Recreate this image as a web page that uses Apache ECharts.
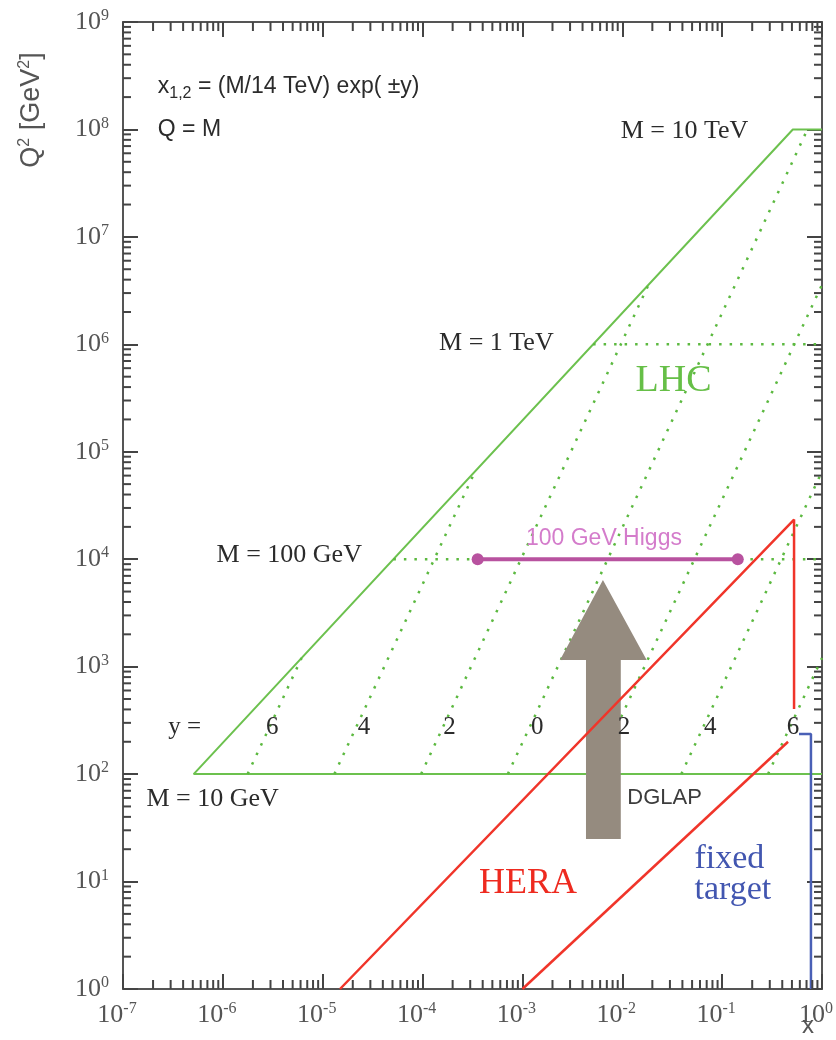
<!DOCTYPE html>
<html>
<head>
<meta charset="utf-8">
<script src="https://cdn.jsdelivr.net/npm/echarts@6/dist/echarts.min.js"></script>
<style>
  html, body { margin: 0; padding: 0; background: #ffffff; }
  #chart { width: 836px; height: 1040px; }
</style>
</head>
<body>
<div id="chart"></div>
<script>
// Kinematic plane of parton momentum fraction x against Q^2 [GeV^2]

// Axis ranges and decade exponents used for the tick labels
const xRange = [1e-7, 1];
const q2Range = [1, 1e9];
const xExponents = [-7, -6, -5, -4, -3, -2, -1, 0];
const q2Exponents = [0, 1, 2, 3, 4, 5, 6, 7, 8, 9];
const minorSteps = [2, 3, 4, 5, 6, 7, 8, 9];

// LHC reach (sqrt(s) = 14 TeV, Q = M): M = 10 TeV cap, x_min edge, M = 10 GeV floor
const lhcEdge = [[1, 1e8], [0.5102, 1e8], [5.102e-7, 100], [1, 100]];

// Lines of fixed rapidity y = -6, -4, -2, 0, 2, 4, 6
const rapidityLines = [
  [[1.770e-6, 100], [6.144e-6, 1204]],
  [[1.308e-5, 100], [3.355e-4, 6.575e4]],
  [[9.667e-5, 100], [1.832e-2, 3.590e6]],
  [[7.143e-4, 100], [0.7143, 1e8]],
  [[5.278e-3, 100], [1, 3.590e6]],
  [[3.900e-2, 100], [1, 6.575e4]],
  [[0.2882, 100], [1, 1204]]
];

// Fixed-mass lines at M = 1 TeV and M = 100 GeV
const massLines = [
  [[5.102e-3, 1e6], [1, 1e6]],
  [[5.102e-5, 1e4], [1, 1e4]]
];

// HERA coverage
const heraUpper = [[1.49e-5, 1], [0.525, 2.34e4], [0.525, 404]];
const heraLower = [[1.0e-3, 1], [0.457, 200]];

// Fixed-target coverage
const fixedTarget = [[0.588, 236], [0.775, 236], [0.775, 1]];

// 100 GeV Higgs production, |y| < 3
const higgsSpan = [[3.56e-4, 1e4], [0.1434, 1e4]];

// DGLAP evolution arrow outline
const arrowOutline = [
  [4.33e-3, 24.9], [4.33e-3, 1153], [2.38e-3, 1153], [6.40e-3, 6397],
  [1.754e-2, 1153], [9.66e-3, 1153], [9.66e-3, 24.9]
];

// Text annotations
const massLabelText = ['M = 10 TeV', 'M = 1 TeV', 'M = 100 GeV', 'M = 10 GeV'];
const massLabelAt = [[0.0420, 9.66e7], [5.48e-4, 1.03e6], [4.62e-6, 1.094e4], [7.89e-7, 58.6]];
const rapidityLabelText = ['y =', '6', '4', '2', '0', '2', '4', '6'];
const rapidityLabelAt = [[4.15e-7, 274], [3.13e-6, 274], [2.59e-5, 274], [1.86e-4, 274],
                         [1.41e-3, 274], [1.04e-2, 274], [7.62e-2, 274], [0.513, 274]];

const serif = "'Liberation Serif', 'Times New Roman', serif";
const sans = "'Liberation Sans', Arial, sans-serif";

const green = '#6cc14e';
const greenDot = '#5cb940';
const red = '#f0352a';
const blue = '#4a60b6';
const higgsColor = '#b8529f';
const arrowColor = '#958b7f';
const frameColor = '#555555';
const tickColor = '#444444';

function powLabel(v) {
  const e = Math.round(Math.log10(v));
  return '{b|10}{s|' + e + '}';
}

const tickRich = {
  b: { fontFamily: serif, fontSize: 26, color: '#555', lineHeight: 28 },
  s: { fontFamily: serif, fontSize: 16, color: '#555', lineHeight: 20, verticalAlign: 'top' }
};

function logAxis(position, withLabels, isX) {
  const range = isX ? xRange : q2Range;
  return {
    type: 'log',
    logBase: 10,
    min: range[0],
    max: range[1],
    position: position,
    splitNumber: 10,
    axisLine: { show: true, onZero: false, lineStyle: { color: frameColor, width: 2 } },
    axisTick: { show: true, inside: true, length: 15, lineStyle: { color: tickColor, width: 2 } },
    minorTick: { show: false },
    splitLine: { show: false },
    axisLabel: withLabels ? {
      show: true,
      margin: isX ? 12 : 14,
      showMinLabel: true,
      showMaxLabel: true,
      formatter: powLabel,
      rich: tickRich,
      padding: isX ? [0, 12, 0, 0] : [0, 0, 0, 0]
    } : { show: false }
  };
}

// Minor tick positions at 2..9 within each decade
const xMinorTicks = [];
xExponents.slice(0, -1).forEach(e => minorSteps.forEach(k => xMinorTicks.push([k * Math.pow(10, e), q2Range[0]])));
const q2MinorTicks = [];
q2Exponents.slice(0, -1).forEach(e => minorSteps.forEach(k => q2MinorTicks.push([xRange[0], k * Math.pow(10, e)])));

function tickLine(x1, y1, x2, y2) {
  return { type: 'line', shape: { x1, y1, x2, y2 }, style: { stroke: tickColor, lineWidth: 2 } };
}

function lineSeries(name, data, style, z) {
  return {
    type: 'line', name, data, symbol: 'none', silent: true, z: z || 2,
    lineStyle: style, clip: true, animation: false
  };
}

function note(text, at, style) {
  return {
    value: at,
    label: Object.assign({ show: true, opacity: 1, position: 'inside', formatter: () => text }, style)
  };
}

const serifDark = { fontFamily: serif, fontSize: 26, color: '#2b2b2b' };

const notes = [];
massLabelText.forEach((t, i) => notes.push(note(t, massLabelAt[i], serifDark)));
rapidityLabelText.forEach((t, i) => notes.push(note(t, rapidityLabelAt[i], { fontFamily: serif, fontSize: 25, color: '#2b2b2b' })));
notes.push(note('LHC', [0.0326, 4.56e5], { fontFamily: serif, fontSize: 38, color: '#66bf47' }));
notes.push(note('HERA', [1.14e-3, 9.49], { fontFamily: serif, fontSize: 36, color: '#ee2a1f' }));
notes.push(note('fixed\ntarget', [0.0528, 11.5], { fontFamily: serif, fontSize: 34, lineHeight: 31, color: '#4256b0', align: 'left' }));
notes.push(note('DGLAP', [0.02655, 59.8], { fontFamily: sans, fontSize: 22, color: '#3c3c3c' }));
notes.push(note('100 GeV Higgs', [6.55e-3, 1.57e4], { fontFamily: sans, fontSize: 23, color: '#d47ccb' }));
notes.push(note('{t|x}{sub|1,2}{t| = (M/14 TeV) exp( ±y)}', [2.23e-7, 2.48e8], {
  align: 'left',
  rich: {
    t: { fontFamily: sans, fontSize: 23, color: '#2b2b2b', lineHeight: 30 },
    sub: { fontFamily: sans, fontSize: 16, color: '#2b2b2b', lineHeight: 14, verticalAlign: 'bottom' }
  }
}));
notes.push(note('Q = M', [2.23e-7, 9.89e7], { fontFamily: sans, fontSize: 23, color: '#2b2b2b', align: 'left' }));

const chart = echarts.init(document.getElementById('chart'), null, { renderer: 'canvas' });

const series = [];
series.push(lineSeries('LHC', lhcEdge, { color: green, width: 2 }, 2));
rapidityLines.forEach((d, i) => series.push(lineSeries('rapidity ' + i, d,
  { color: greenDot, width: 2.5, type: [2.5, 8], cap: 'butt' }, 2)));
massLines.forEach((d, i) => series.push(lineSeries('mass ' + i, d,
  { color: greenDot, width: 2.5, type: [2.5, 8], cap: 'butt' }, 2)));

series.push({
  type: 'custom', name: 'DGLAP', silent: true, z: 3, animation: false,
  data: arrowOutline,
  encode: { x: 0, y: 1 },
  renderItem: function (params, api) {
    if (params.dataIndex !== 0) return null;
    const pts = arrowOutline.map(p => api.coord(p));
    return { type: 'polygon', shape: { points: pts }, style: { fill: arrowColor } };
  }
});

series.push(lineSeries('HERA', heraUpper, { color: red, width: 2.5 }, 4));
series.push(lineSeries('HERA low', heraLower, { color: red, width: 2.5 }, 4));
series.push(lineSeries('fixed target', fixedTarget, { color: blue, width: 2.5 }, 4));

series.push({
  type: 'line', name: 'Higgs', data: higgsSpan, silent: true, z: 5, animation: false,
  symbol: 'circle', symbolSize: 12, showSymbol: true,
  itemStyle: { color: higgsColor },
  lineStyle: { color: higgsColor, width: 4 }
});

series.push({
  type: 'scatter', name: 'notes', data: notes, symbolSize: 1, silent: true, z: 6,
  itemStyle: { color: 'rgba(0,0,0,0)', opacity: 1 }, animation: false
});

series.push({
  type: 'custom', name: 'x minor ticks', silent: true, z: 7, animation: false,
  data: xMinorTicks, encode: { x: 0, y: 1 },
  renderItem: function (params, api) {
    const cs = params.coordSys;
    const p = api.coord([api.value(0), api.value(1)]);
    const yb = cs.y + cs.height, yt = cs.y;
    return { type: 'group', children: [tickLine(p[0], yb, p[0], yb - 9), tickLine(p[0], yt, p[0], yt + 9)] };
  }
});

series.push({
  type: 'custom', name: 'q2 minor ticks', silent: true, z: 7, animation: false,
  data: q2MinorTicks, encode: { x: 0, y: 1 },
  renderItem: function (params, api) {
    const cs = params.coordSys;
    const p = api.coord([api.value(0), api.value(1)]);
    const xl = cs.x, xr = cs.x + cs.width;
    return { type: 'group', children: [tickLine(xl, p[1], xl + 8, p[1]), tickLine(xr, p[1], xr - 8, p[1])] };
  }
});

chart.setOption({
  animation: false,
  backgroundColor: '#ffffff',
  grid: { left: 123, right: 11, top: 22, bottom: 51, containLabel: false },
  xAxis: [logAxis('bottom', true, true), logAxis('top', false, true)],
  yAxis: [logAxis('left', true, false), logAxis('right', false, false)],
  series: series,
  graphic: [
    {
      type: 'text', x: 32, y: 110, rotation: Math.PI / 2,
      style: {
        text: '{t|Q}{s|2}{t| [GeV}{s|2}{t|]}',
        align: 'center', verticalAlign: 'middle',
        rich: {
          t: { fontFamily: sans, fontSize: 27, fill: '#555', lineHeight: 30 },
          s: { fontFamily: sans, fontSize: 16, fill: '#555', lineHeight: 20, verticalAlign: 'top' }
        }
      }
    },
    {
      type: 'text', x: 808, y: 1026,
      style: { text: 'x', fontFamily: sans, fontSize: 24, fill: '#555', align: 'center', verticalAlign: 'middle' }
    }
  ]
});
</script>
</body>
</html>
